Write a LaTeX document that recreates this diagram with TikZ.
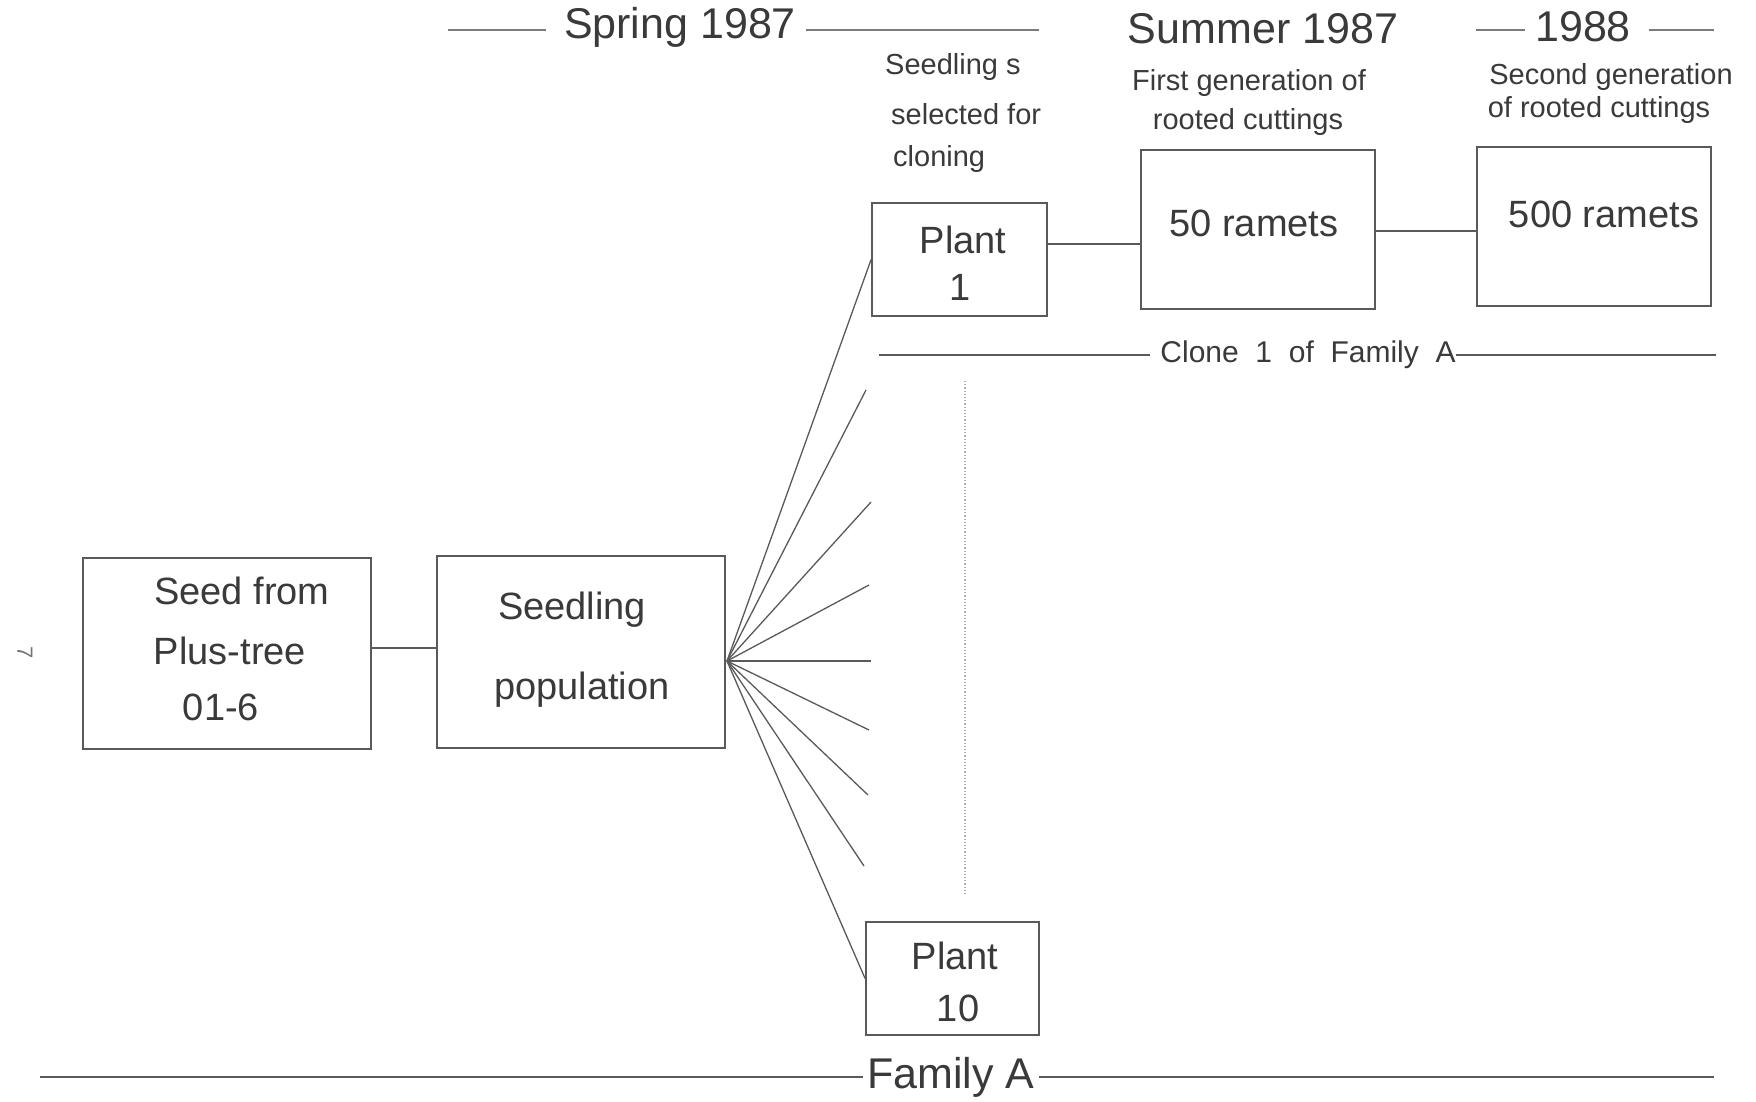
\documentclass[tikz,border=0pt]{standalone}
\usepackage{fontspec}
\setmainfont{Liberation Sans}
\usetikzlibrary{calc}
\definecolor{ink}{HTML}{3A3A3A}
\definecolor{rule}{HTML}{5A5A5A}
\begin{document}
\begin{tikzpicture}[x=1pt,y=-1pt,
  boxstyle/.style={draw=rule,line width=1.8pt,inner sep=0pt},
  big/.style={text=ink,inner sep=0pt,font=\fontsize{38}{44}\selectfont},
  huge/.style={text=ink,inner sep=0pt,font=\fontsize{43}{50}\selectfont},
  small/.style={text=ink,inner sep=0pt,font=\fontsize{29}{34}\selectfont},
  mid/.style={text=ink,inner sep=0pt,font=\fontsize{30}{36}\selectfont},
  conn/.style={draw=rule,line width=1.6pt},
  thin/.style={draw=rule!80,line width=1.6pt}]
\useasboundingbox[fill=white] (0,0) rectangle (1756,1101);

% boxes
\node[boxstyle,minimum width=288pt,minimum height=191pt] (seed) at (227,653.5) {};
\node[boxstyle,minimum width=288pt,minimum height=192pt] (pop) at (581,652) {};
\node[boxstyle,minimum width=175pt,minimum height=113pt] (p1) at (959.5,259.5) {};
\node[boxstyle,minimum width=234pt,minimum height=159pt] (r50) at (1258,229.5) {};
\node[boxstyle,minimum width=234pt,minimum height=159pt] (r500) at (1594,226.5) {};
\node[boxstyle,minimum width=173pt,minimum height=113pt] (p10) at (952.5,978.5) {};

% box texts
\node[big] (t1) at (242,591) {Seed from};
\node[big] (t2) at (230,651) {Plus-tree};
\node[big] (t3) at (221,707) {01-6};
\node[big] (t4) at (572,610) {Seedling};
\node[big] (t5) at (582,690) {population};
\node[big] (t6) at (963,240) {Plant};
\node[big] (t7) at (960,287) {1};
\node[big] (t8) at (1254,223) {50 ramets};
\node[big] (t9) at (1604,214) {500 ramets};
\node[big] (t10) at (955,956) {Plant};
\node[big] (t11) at (958,1008) {10};

% connectors
\draw[conn] (seed.east |- 0,648) -- (pop.west |- 0,648);
\draw[conn] (p1.east |- 0,244) -- (r50.west |- 0,244);
\draw[conn] (r50.east |- 0,231) -- (r500.west |- 0,231);

% fan
\coordinate (fan) at (727,661);
\coordinate (e2) at (866,390);
\coordinate (e3) at (871,502);
\coordinate (e4) at (869,585);
\coordinate (e5) at (871,661);
\coordinate (e6) at (869,730);
\coordinate (e7) at (868,795);
\coordinate (e8) at (864,866);
\draw[conn,line width=1.3pt] (fan) -- (p1.west);
\foreach \e in {e2,e3,e4,e5,e6,e7,e8} \draw[conn,line width=1.3pt] (fan) -- (\e);
\draw[conn,line width=1.3pt] (fan) -- (p10.west);

% dotted vertical
\coordinate (dv1) at (965,381);
\coordinate (dv2) at (965,896);
\draw[draw=rule!50,line width=1.2pt,dotted] (dv1) -- (dv2);

% headings
\node[huge] (spring) at (680,27) {Spring 1987};
\coordinate (sl1) at (448,30); \coordinate (sr2) at (1039,30);
\draw[thin] (sl1) -- ($(spring.west)+(-18,3)$);
\draw[thin] ($(spring.east)+(10,3)$) -- (sr2);
\node[huge] (summer) at (1263,29) {Summer 1987};
\node[huge] (y88) at (1583,27) {1988};
\coordinate (yl1) at (1476,30); \coordinate (yr2) at (1714,30);
\draw[thin] (yl1) -- ($(y88.west)+(-10,3)$);
\draw[thin] ($(y88.east)+(18,3)$) -- (yr2);

% small labels
\node[small,anchor=west] (s1) at (885,67) {Seedling s};
\node[small,anchor=west] (s2) at (891,114) {selected for};
\node[small,anchor=west] (s3) at (893,159) {cloning};
\node[small] (f1) at (1249,83) {First generation of};
\node[small] (f2) at (1248,122) {rooted cuttings};
\node[small] (g1) at (1611,77) {Second generation};
\node[small] (g2) at (1599,110) {of rooted cuttings};

% clone line
\node[mid] (clone) at (1308,355) {Clone\ \ 1\ \ of\ \ Family\ \ A};
\coordinate (cl1) at (879,355); \coordinate (cl2) at (1716,355);
\draw[conn] (cl1) -- ($(clone.west)+(-10,0)$);
\draw[conn] (clone.east) -- (cl2);

% family line
\node[huge] (fam) at (951,1077) {Family A};
\coordinate (fl1) at (40,1077); \coordinate (fl2) at (1714,1077);
\draw[conn] (fl1) -- ($(fam.west)+(-4,0)$);
\draw[conn] ($(fam.east)+(4,0)$) -- (fl2);

% page mark
\node[text=ink!70,inner sep=0pt,font=\fontsize{22}{26}\selectfont,rotate=-90] (pg) at (25,653) {7};
\end{tikzpicture}
\end{document}
